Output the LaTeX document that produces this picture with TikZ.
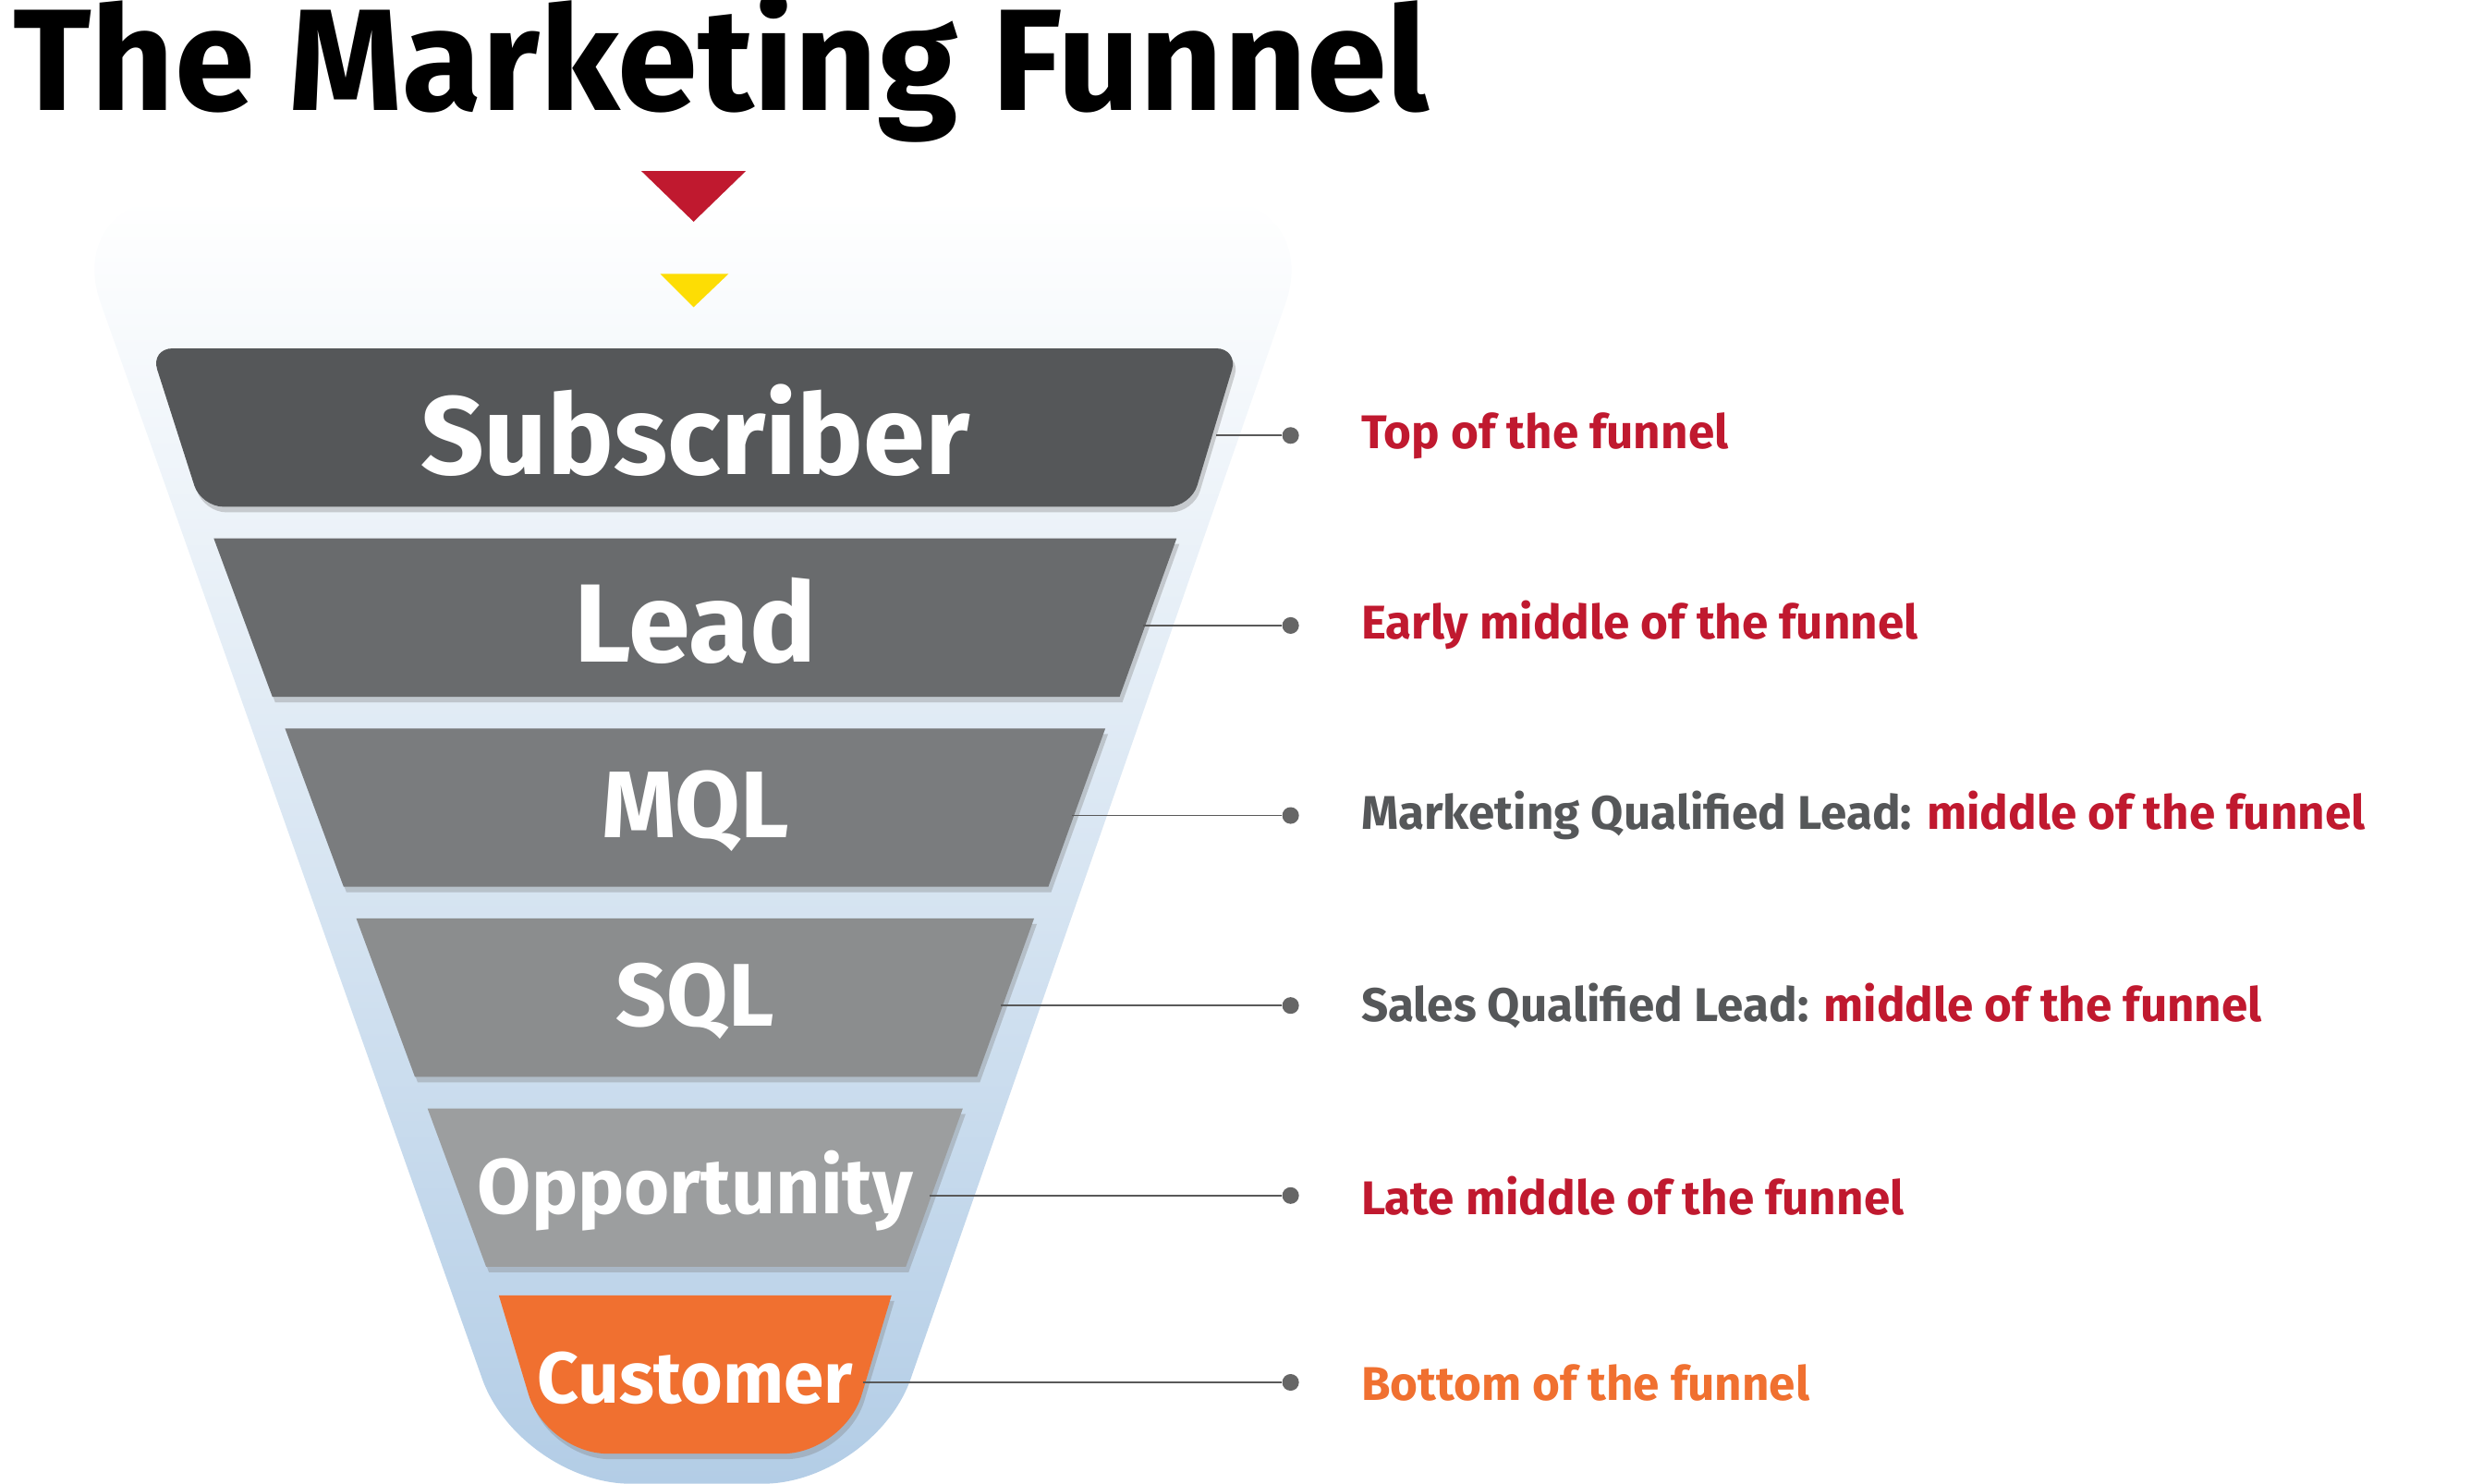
\documentclass[tikz,border=0pt]{standalone}
\usepackage{fontspec}
\setmainfont{Fira Sans}
\usetikzlibrary{positioning, calc, shadows}
\definecolor{funnelred}{HTML}{C0192F}
\definecolor{funnelorange}{HTML}{F07030}
\definecolor{funnelblue}{HTML}{B3CDE6}
\definecolor{funnelgray}{HTML}{555759}
\newcommand{\fsz}[1]{\fontsize{#1}{#1}\selectfont}

\begin{document}
\begin{tikzpicture}[
    x=0.02cm, y=-0.02cm,
    band/.style={draw=none, drop shadow={opacity=0.35, shadow xshift=1pt, shadow yshift=-2pt}},
    bandtext/.style={text=white, font=\bfseries\fsz{#1}},
    dot/.style={circle, fill=gray!80!black, inner sep=0pt, minimum size=6pt},
    lbl/.style={anchor=west, font=\bfseries\fsz{17}, inner sep=0pt},
    conn/.style={draw=gray!70!black, line width=0.6pt}
]
\useasboundingbox (0,0) rectangle (1568,937);

% Funnel background
\shade[top color=white, bottom color=funnelblue, rounded corners=40]
  (40,125) -- (835,125) -- (552,937) -- (328,937) -- cycle;
\fill[white] (0,100) rectangle (1568,124);

% Title and arrows
\node[anchor=base west, inner sep=0pt, font=\bfseries\fsz{52}] (title) at (8,70) {The Marketing Funnel};
\fill[funnelred] (405,108) -- (471,108) -- (438,140) -- cycle;
\fill[yellow!80!orange] (417,173) -- (460,173) -- (438,194) -- cycle;

% Bands
\fill[band, fill=funnelgray, rounded corners=8] (95,220) -- (782,220) -- (752,320) -- (127,320) -- cycle;
\fill[band, fill=funnelgray!88!white] (135,340) -- (743,340) -- (707,440) -- (172,440) -- cycle;
\fill[band, fill=funnelgray!78!white] (180,460) -- (698,460) -- (662,560) -- (217,560) -- cycle;
\fill[band, fill=funnelgray!68!white] (225,580) -- (653,580) -- (617,680) -- (262,680) -- cycle;
\fill[band, fill=funnelgray!58!white] (270,700) -- (608,700) -- (572,800) -- (307,800) -- cycle;
\fill[band, fill=funnelorange] (315,818) -- (563,818) [rounded corners=22] -- (533,918) -- (345,918) [sharp corners] -- cycle;

\node[bandtext=40] (sub) at (439,272) {Subscriber};
\node[bandtext=40] (lead) at (439,392) {Lead};
\node[bandtext=34] (mql) at (439,512) {MQL};
\node[bandtext=32] (sql) at (439,632) {SQL};
\node[bandtext=28] (opp) at (439,752) {Opportunity};
\node[bandtext=26] (cust) at (439,870) {Customer};

% Edge anchors
\coordinate (e1) at (768,275);
\coordinate (e2) at (722,395);
\coordinate (e3) at (677,515);
\coordinate (e4) at (632,635);
\coordinate (e5) at (587,755);
\coordinate (e6) at (545,873);

% Dots and labels
\foreach \i/\yy in {1/275, 2/395, 3/515, 4/635, 5/755, 6/873}{
  \node[dot] (d\i) at (815,\yy) {};
  \draw[conn] (e\i) -- (d\i);
}
\node[lbl, text=funnelred, right=22pt of d1] (t1) {Top of the funnel};
\node[lbl, text=funnelred, right=22pt of d2] (t2) {Early middle of the funnel};
\node[lbl, right=22pt of d3] (t3) {\textcolor{funnelgray}{Marketing Qualified Lead:} \textcolor{funnelred}{middle of the funnel}};
\node[lbl, right=22pt of d4] (t4) {\textcolor{funnelgray}{Sales Qualified Lead:} \textcolor{funnelred}{middle of the funnel}};
\node[lbl, text=funnelred, right=22pt of d5] (t5) {Late middle of the funnel};
\node[lbl, text=funnelorange, right=22pt of d6] (t6) {Bottom of the funnel};

\end{tikzpicture}
\end{document}
